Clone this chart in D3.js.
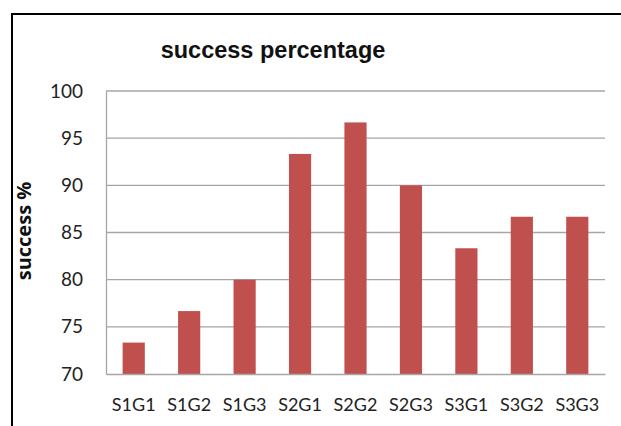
<!DOCTYPE html>
<html>
<head>
<meta charset="utf-8">
<script src="https://cdn.jsdelivr.net/npm/d3@7"></script>
<style>
  html, body { margin: 0; padding: 0; background: #fff; }
  svg { display: block; }
</style>
</head>
<body>
<svg id="chart" width="621" height="426"></svg>
<script>
// Success rate per group
const categories = ["S1G1", "S1G2", "S1G3", "S2G1", "S2G2", "S2G3", "S3G1", "S3G2", "S3G3"];
const successValues = [73.33, 76.67, 80, 93.33, 96.67, 90, 83.33, 86.67, 86.67];
const yTicks = [70, 75, 80, 85, 90, 95, 100];

const svg = d3.select("#chart");
const W = 621, H = 426;
const plot = { left: 106, top: 91, right: 605, bottom: 374 };

// Outer chart frame
svg.append("path")
  .attr("d", `M12,${H} L12,14 L${W},14`)
  .attr("fill", "none")
  .attr("stroke", "#000")
  .attr("stroke-width", 2);

const x = d3.scaleBand()
  .domain(categories)
  .range([plot.left, plot.right])
  .paddingInner(0.6)
  .paddingOuter(0.3);

const y = d3.scaleLinear()
  .domain([70, 100])
  .range([plot.bottom, plot.top]);

// Horizontal gridlines
svg.append("g")
  .selectAll("line")
  .data(yTicks.filter(t => t > 70))
  .join("line")
  .attr("x1", plot.left)
  .attr("x2", plot.right)
  .attr("y1", d => y(d))
  .attr("y2", d => y(d))
  .attr("stroke", "#a6a6a6")
  .attr("stroke-width", 1.3);

// Bars
svg.append("g")
  .selectAll("rect")
  .data(successValues)
  .join("rect")
  .attr("x", (d, i) => x(categories[i]))
  .attr("width", x.bandwidth())
  .attr("y", d => y(d))
  .attr("height", d => y(70) - y(d))
  .attr("fill", "#c0504d");

// Y axis
const yAxis = svg.append("g")
  .attr("transform", `translate(${plot.left},0)`)
  .call(d3.axisLeft(y).tickValues(yTicks).tickSize(0).tickPadding(23));
yAxis.select(".domain").attr("stroke", "#a6a6a6").attr("stroke-width", 1.3);
yAxis.selectAll("text")
  .attr("font-family", "Lato, 'Open Sans', sans-serif")
  .attr("font-size", 19)
  .attr("fill", "#222");

// X axis
const xAxis = svg.append("g")
  .attr("transform", `translate(0,${plot.bottom})`)
  .call(d3.axisBottom(x).tickSize(0).tickPadding(24));
xAxis.select(".domain").attr("stroke", "#a6a6a6").attr("stroke-width", 1.5);
xAxis.selectAll("text")
  .attr("font-family", "Lato, 'Open Sans', sans-serif")
  .attr("font-size", 18)
  .attr("fill", "#222");

// Title
svg.append("text")
  .attr("x", 273)
  .attr("y", 58)
  .attr("text-anchor", "middle")
  .attr("font-family", "'Liberation Sans', Arial, sans-serif")
  .attr("font-weight", "bold")
  .attr("font-size", 23.5)
  .attr("fill", "#111")
  .text("success percentage");

// Y axis title
svg.append("text")
  .attr("transform", "translate(31,231) rotate(-90)")
  .attr("text-anchor", "middle")
  .attr("font-family", "'Open Sans', sans-serif")
  .attr("font-weight", "bold")
  .attr("font-size", 20)
  .attr("fill", "#111")
  .text("success %");
</script>
</body>
</html>
